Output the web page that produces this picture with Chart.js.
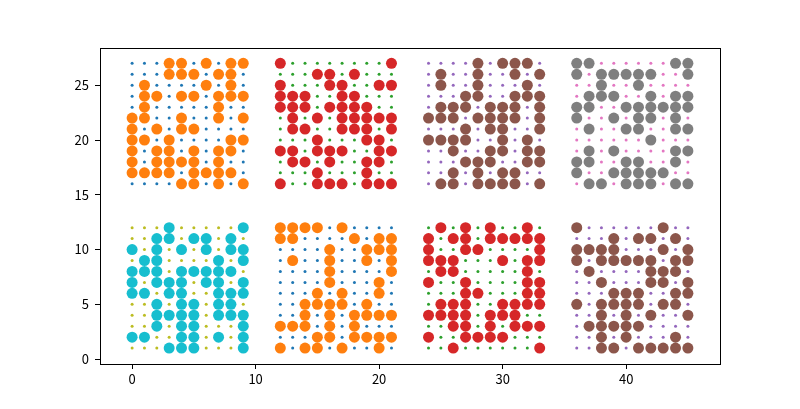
<!DOCTYPE html>
<html>
<head>
<meta charset="utf-8">
<script src="https://cdn.jsdelivr.net/npm/chart.js@4/dist/chart.umd.min.js"></script>
<style>
  body { margin: 0; background: #fff; }
  #wrap { width: 800px; height: 409px; }
</style>
</head>
<body>
<div id="wrap"><canvas id="myChart" width="800" height="409"></canvas></div>
<script>
/******************** data ********************/
// each block: 10 columns x 12 rows, big dots listed per row (top row first)
var xOffsets = [0, 12, 24, 36];
var topBase = 16, bottomBase = 1;
var nCols = 10, nRows = 12;

var topA = [[3,4,6,8,9],[3,4,5,7,8],[1,6,8],[1,2,4,5,7,8,9],[1,7],[0,1,4,7,9],
            [0,2,4,5],[0,1,3,8,9],[0,2,3,5,7,8],[0,2,3,4,5,7],[0,1,2,3,5,6,7,8],[4,5,7,9]];
var topB = [[0,9],[3,4,6],[0,4,5,8,9],[0,1,2,5,6],[0,1,2,4,5,6,7],[1,3,5,6,7,8,9],
            [1,2,5,6,7,9],[3,7,8],[0,1,3,4,5,8,9],[1,2,4,7,8],[3,7],[0,3,4,5,7,8,9]];
var topC = [[4,6,7,8],[1,4,7,9],[1,4,8],[3,4,7,8,9],[1,2,3,5,6,7,9],[0,1,2,4,5,6,7,9],
            [3,5,6,9],[0,1,2,3,6,8],[2,5,6,8,9],[3,4,5,8,9],[2,4,6,7],[1,2,4,5,6,7,9]];
var topD = [[0,1,8,9],[0,2,3,4,5,6,9],[2,5],[1,2,3,6,8,9],[0,1,4,5,6,7,8,9],[0,3,5,6,8],
            [1,4,5,8,9],[6],[1,3,8,9],[0,1,4,5,8],[0,3,4,5,6,7],[1,2,4,5,6,8,9]];
var botA = [[3,9],[2,3,5,6,8],[0,2,4,6,8,9],[1,2,7,9],[0,1,2,4,5,6,7,8],[0,2,3,4,6,7,9],
            [0,1,3,4,7,8,9],[2,4,5,7,8],[2,3,4,5,7,8,9],[2,4,5,9],[0,1,4,5,7,9],[3,4,5,9]];
var botB = [[0,1,2,3,5],[0,1,6,8,9],[4,7,8,9],[1,4,7,9],[4,9],[4,8],
            [3,5,8],[2,3,4,5,7],[2,4,6,7,8,9],[0,1,2,4,6],[3,4,6,7,8,9],[0,2,3,5,8]];
var botC = [[1,3,5,8],[0,2,3,5,6,7,8,9],[0,3,4,9],[0,1,2,6,8,9],[1,2,8],[0,3,8,9],
            [3,4,8,9],[1,2,3,6,7,8,9],[0,1,2,3,5,6,7],[2,3,5,7,8,9],[0,3,4,5,6],[2,9]];
var botD = [[0,7],[3,5,6,8],[0,1,2,3,7,9],[0,2,3,4,5,6,8,9],[1,6,7,8],[2,6,7,9],
            [3,4,5,8,9],[0,2,3,4,5,7,8],[2,4,6,9],[1,2,3,4,5],[2,4,8],[2,3,5,6,7,8,9]];

var xTicks = [0, 10, 20, 30, 40];
var yTicks = [0, 5, 10, 15, 20, 25];

/******************** build datasets ********************/
var blocks = [
  {rows: topA, x0: xOffsets[0], y0: topBase, small: "#1f77b4", big: "#ff7f0e"},
  {rows: topB, x0: xOffsets[1], y0: topBase, small: "#2ca02c", big: "#d62728"},
  {rows: topC, x0: xOffsets[2], y0: topBase, small: "#9467bd", big: "#8c564b"},
  {rows: topD, x0: xOffsets[3], y0: topBase, small: "#e377c2", big: "#7f7f7f"},
  {rows: botA, x0: xOffsets[0], y0: bottomBase, small: "#bcbd22", big: "#17becf"},
  {rows: botB, x0: xOffsets[1], y0: bottomBase, small: "#1f77b4", big: "#ff7f0e"},
  {rows: botC, x0: xOffsets[2], y0: bottomBase, small: "#2ca02c", big: "#d62728"},
  {rows: botD, x0: xOffsets[3], y0: bottomBase, small: "#9467bd", big: "#8c564b"}
];

var datasets = [];
blocks.forEach(function(b) {
  var smallPts = [], bigPts = [];
  for (var r = 0; r < nRows; r++) {
    var y = b.y0 + nRows - 1 - r;
    for (var c = 0; c < nCols; c++) {
      smallPts.push({x: b.x0 + c, y: y});
    }
    b.rows[r].forEach(function(c) {
      bigPts.push({x: b.x0 + c, y: y});
    });
  }
  datasets.push({data: smallPts, backgroundColor: b.small, borderWidth: 0,
                 pointRadius: 1.5, order: 2});
  datasets.push({data: bigPts, backgroundColor: b.big, borderWidth: 0,
                 pointRadius: 5.5, order: 1});
});

// black frame round the plot, like matplotlib
var frame = {
  id: "frame",
  afterDraw: function(chart) {
    var a = chart.chartArea, ctx = chart.ctx;
    ctx.save();
    ctx.strokeStyle = "#000";
    ctx.lineWidth = 1;
    ctx.strokeRect(Math.round(a.left) + 0.5, Math.round(a.top) + 0.5,
                   Math.round(a.right - a.left), Math.round(a.bottom - a.top));
    ctx.restore();
  }
};

Chart.defaults.font.family = "'Noto Sans CJK SC', 'DejaVu Sans', sans-serif";
Chart.defaults.font.size = 13;
Chart.defaults.color = "#000";

new Chart("myChart", {
  type: "scatter",
  data: {datasets: datasets},
  plugins: [frame],
  options: {
    responsive: false,
    animation: false,
    layout: {padding: {left: 0, top: 48, right: 80, bottom: 0}},
    plugins: {legend: {display: false}, tooltip: {enabled: false}},
    scales: {
      x: {
        min: -2.6, max: 47.6,
        afterBuildTicks: function(s) { s.ticks = xTicks.map(function(v) { return {value: v}; }); },
        afterFit: function(s) { s.height = 45; },
        grid: {display: true, drawOnChartArea: false, drawTicks: true, tickLength: 5, color: "#000"},
        border: {display: false},
        ticks: {padding: 2, maxRotation: 0}
      },
      y: {
        min: -0.45, max: 28.4,
        afterBuildTicks: function(s) { s.ticks = yTicks.map(function(v) { return {value: v}; }); },
        afterFit: function(s) { s.width = 100; },
        grid: {display: true, drawOnChartArea: false, drawTicks: true, tickLength: 5, color: "#000"},
        border: {display: false},
        ticks: {padding: 6}
      }
    }
  }
});
</script>
</body>
</html>
